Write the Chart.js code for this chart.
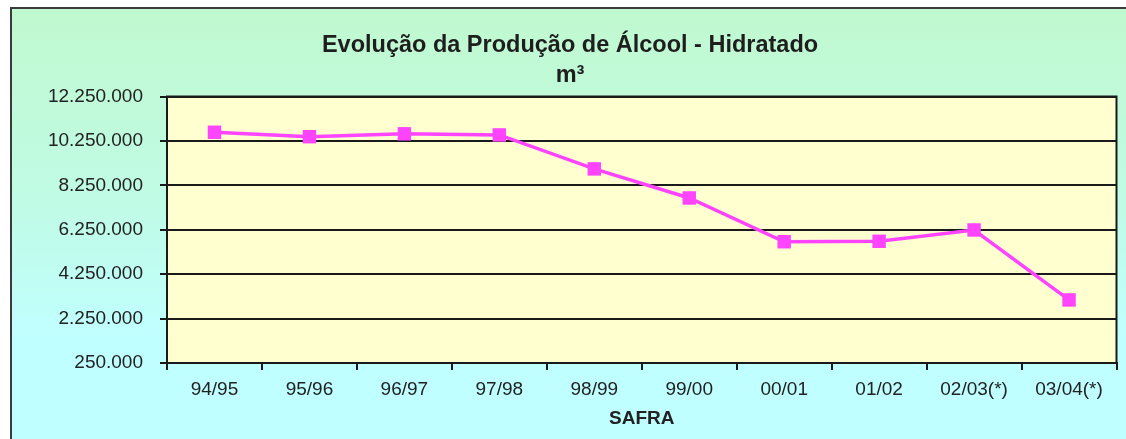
<!DOCTYPE html>
<html lang="pt-BR">
<head>
<meta charset="utf-8">
<title>Evolução da Produção de Álcool - Hidratado</title>
<script src="https://cdn.jsdelivr.net/npm/chart.js"></script>
<style>
  html, body { margin: 0; padding: 0; background: #ffffff; overflow: hidden; }
  #moldura {
    position: absolute; left: 10px; top: 7px; width: 1130px; height: 440px;
    border-left: 2px solid #3a3a3a; border-top: 2px solid #3a3a3a;
    background: linear-gradient(to bottom, #c0f9cf 0%, #c0fbe6 45%, #c0ffff 75%, #c0ffff 100%);
  }
  #grafico { position: absolute; left: 0; top: 0; }
</style>
</head>
<body>
<div id="moldura"></div>
<canvas id="grafico" width="1126" height="439"></canvas>
<script>
// Safras (eixo X)
const safras = ['94/95', '95/96', '96/97', '97/98', '98/99', '99/00', '00/01', '01/02', '02/03(*)', '03/04(*)'];
// Produção de álcool hidratado, m³
const producao = [10640000, 10440000, 10570000, 10520000, 8990000, 7680000, 5710000, 5730000, 6240000, 3090000];
// Escala do eixo Y
const yMin = 250000;
const yMax = 12250000;
const yPasso = 2000000;

const fonte = '"Liberation Sans", Arial, sans-serif';

// separador de milhar com ponto
function formataNumero(v) {
  return String(Math.round(v)).replace(/\B(?=(\d{3})+(?!\d))/g, '.');
}

// fundo amarelo e moldura da área de plotagem
const fundoPlot = {
  id: 'fundoPlot',
  beforeDraw(chart) {
    const { ctx, chartArea: a } = chart;
    ctx.save();
    ctx.fillStyle = '#ffffd0';
    ctx.fillRect(a.left, a.top, a.right - a.left, a.bottom - a.top);
    ctx.restore();
  },
  afterDatasetsDraw(chart) {
    const { ctx, chartArea: a } = chart;
    ctx.save();
    ctx.strokeStyle = '#1a1a1a';
    ctx.lineWidth = 2;
    ctx.strokeRect(a.left, a.top, a.right - a.left, a.bottom - a.top);
    ctx.restore();
  }
};

const ctx = document.getElementById('grafico').getContext('2d');
new Chart(ctx, {
  type: 'line',
  data: {
    labels: safras,
    datasets: [{
      data: producao,
      borderColor: '#ff44ff',
      backgroundColor: '#ff44ff',
      borderWidth: 3.5,
      pointStyle: 'rect',
      pointRadius: 9.5,
      pointHoverRadius: 9.5,
      pointBorderWidth: 0,
      tension: 0,
      clip: false
    }]
  },
  options: {
    responsive: false,
    animation: false,
    layout: { padding: { left: 22, right: 8, top: 0, bottom: 0 } },
    plugins: {
      legend: { display: false },
      tooltip: { enabled: false },
      title: {
        display: true,
        text: ['Evolução da Produção de Álcool - Hidratado', 'm³'],
        color: '#1e1e1e',
        font: { family: fonte, size: 23.5, weight: 'bold', lineHeight: 30 / 23.5 },
        padding: { top: 31, bottom: 5.5 }
      }
    },
    scales: {
      x: {
        offset: true,
        grid: { offset: true, drawOnChartArea: false, drawTicks: true, tickLength: 7, color: '#1a1a1a', lineWidth: 2 },
        border: { display: true, color: '#1a1a1a', width: 2 },
        ticks: { color: '#222', font: { family: fonte, size: 19 }, padding: 8, maxRotation: 0, autoSkip: false },
        title: { display: true, text: 'SAFRA', color: '#222', font: { family: fonte, size: 19, weight: 'bold' }, padding: { top: 0, bottom: 9 } },
        afterFit(scale) { scale.height = 76; }
      },
      y: {
        min: yMin,
        max: yMax,
        grid: { color: '#1a1a1a', lineWidth: 2, tickLength: 7 },
        border: { display: true, color: '#1a1a1a', width: 2 },
        ticks: {
          stepSize: yPasso,
          color: '#222',
          font: { family: fonte, size: 19 },
          padding: 17,
          callback: (v) => formataNumero(v)
        },
        afterFit(scale) { scale.width = 145; }
      }
    }
  },
  plugins: [fundoPlot]
});
</script>
</body>
</html>
